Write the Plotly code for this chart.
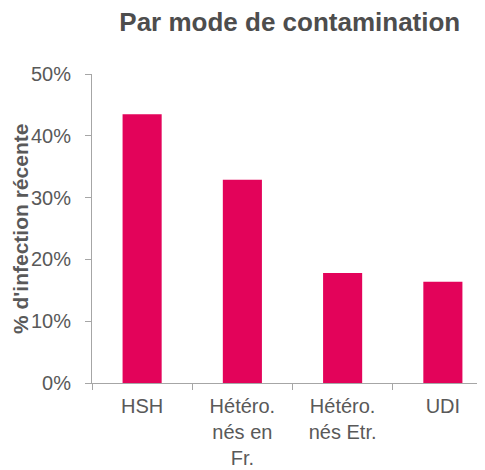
import plotly.graph_objects as go

categories = ["HSH", "Hétéro.<br>nés en<br>Fr.", "Hétéro.<br>nés Etr.", "UDI"]
values = [0.435, 0.329, 0.178, 0.164]
y_ticks = [0, 0.1, 0.2, 0.3, 0.4, 0.5]

_BAR = "#E3035A"
_TEXT = "#595959"
_AXIS = "#A6A6A6"

fig = go.Figure()

fig.add_trace(go.Bar(
    x=categories,
    y=values,
    marker=dict(color=_BAR, line=dict(width=0)),
    width=0.39,
))

# the page adds an 8px body margin, so everything is shifted by -8px here
fig.update_layout(
    width=485,
    height=470,
    margin=dict(l=84, r=0, t=66, b=95),
    paper_bgcolor="white",
    plot_bgcolor="white",
    font=dict(family="Liberation Sans, Arial, sans-serif", size=20, color=_TEXT),
    showlegend=False,
    title=dict(
        text="<b>Par mode de contamination</b>",
        x=0.581, xanchor="center",
        y=0.970, yanchor="middle",
        font=dict(size=26, color="#4D4D4D"),
    ),
    xaxis=dict(
        range=[-0.5, 3.5],
        showline=True, linecolor=_AXIS, linewidth=1,
        ticks="outside", tickson="boundaries", ticklen=6, tickcolor=_AXIS,
        ticklabelstandoff=5,
        showgrid=False,
        tickfont=dict(size=20, color=_TEXT),
    ),
    yaxis=dict(
        range=[0, 0.5],
        tickvals=y_ticks,
        tickformat=".0%",
        showline=True, linecolor=_AXIS, linewidth=1,
        ticks="outside", ticklen=6, tickcolor=_AXIS,
        ticklabelstandoff=10,
        showgrid=False, zeroline=False,
        tickfont=dict(size=20, color=_TEXT),
    ),
    annotations=[dict(
        text="<b>% d'infection récente</b>",
        textangle=-90,
        xref="paper", yref="paper",
        x=-0.1447, y=0.50,
        xanchor="right", yanchor="middle",
        showarrow=False,
        font=dict(size=21, color=_TEXT),
    )],
)

fig.write_html("out.html")
